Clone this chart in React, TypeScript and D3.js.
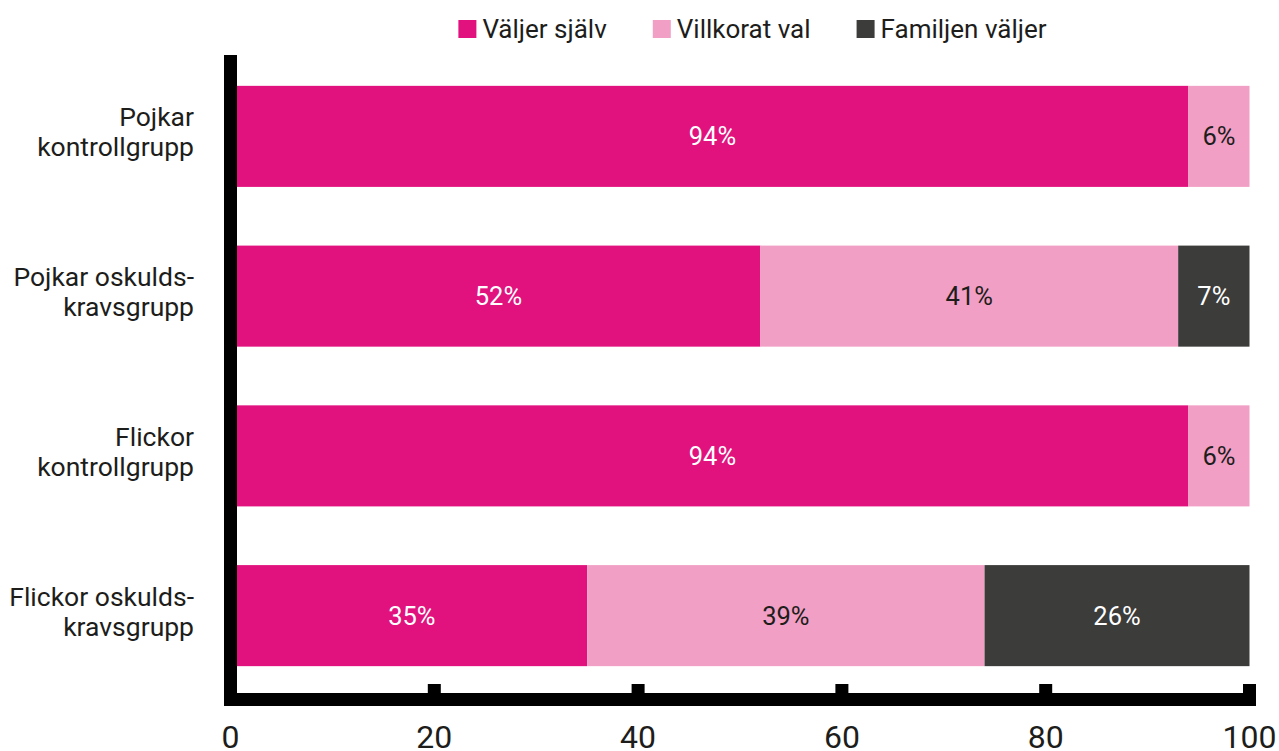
import React, { useEffect, useRef } from "react";
import * as d3 from "d3";

const categories = [
  ["Pojkar", "kontrollgrupp"],
  ["Pojkar oskulds-", "kravsgrupp"],
  ["Flickor", "kontrollgrupp"],
  ["Flickor oskulds-", "kravsgrupp"],
];
const seriesNames = ["Väljer själv", "Villkorat val", "Familjen väljer"];
const valjerSjalv = [94, 52, 94, 35];
const villkoratVal = [6, 41, 6, 39];
const familjenValjer = [0, 7, 0, 26];
const xTicks = [0, 20, 40, 60, 80, 100];

const colors = ["#E1127E", "#F29FC5", "#3C3C3B"];
const labelColors = ["#ffffff", "#1d1d1b", "#ffffff"];
const FONT = "Roboto, sans-serif";

export default function App() {
  const ref = useRef<SVGSVGElement>(null);
  useEffect(() => {
    const svg = d3.select(ref.current);
    svg.selectAll("*").remove();
    const x = d3.scaleLinear().domain([0, 100]).range([230.5, 1249.5]);
    const keys = categories.map((c) => c.join(" "));
    const y = d3
      .scaleBand<string>()
      .domain(keys)
      .range([56.5, 695.5])
      .paddingInner(0.3674)
      .paddingOuter(0.1837);

    const rows = keys.map((k, i) => ({
      key: k,
      "0": valjerSjalv[i],
      "1": villkoratVal[i],
      "2": familjenValjer[i],
    }));
    const stack = d3.stack<any>().keys(["0", "1", "2"]);
    const stacked = stack(rows);

    stacked.forEach((layer, si) => {
      const g = svg.append("g");
      layer.forEach((d, i) => {
        const v = d[1] - d[0];
        if (v <= 0) return;
        const x0 = x(d[0]);
        const x1 = x(d[1]);
        const yy = y(keys[i])!;
        g.append("rect")
          .attr("x", x0)
          .attr("y", yy)
          .attr("width", x1 - x0)
          .attr("height", y.bandwidth())
          .attr("fill", colors[si]);
        g.append("text")
          .attr("x", (x0 + x1) / 2 + (d[0] === 0 ? 3 : 0))
          .attr("y", yy + y.bandwidth() / 2 + 9)
          .attr("text-anchor", "middle")
          .attr("font-family", FONT)
          .attr("font-size", 25.5)
          .attr("fill", labelColors[si])
          .text(`${v}%`);
      });
    });

    // category labels
    categories.forEach((lines, i) => {
      const cy = y(keys[i])! + y.bandwidth() / 2;
      const t = svg
        .append("text")
        .attr("text-anchor", "end")
        .attr("font-family", FONT)
        .attr("font-size", 26.5)
        .attr("fill", "#1d1d1b");
      lines.forEach((ln, li) => {
        t.append("tspan")
          .attr("x", 194)
          .attr("y", cy - 10 + li * 30)
          .text(ln);
      });
    });

    // axes
    const axisW = 13;
    svg
      .append("rect")
      .attr("x", x(0) - axisW / 2)
      .attr("y", 55)
      .attr("width", axisW)
      .attr("height", 706 - 55)
      .attr("fill", "#000");
    svg
      .append("rect")
      .attr("x", x(0) - axisW / 2)
      .attr("y", 693)
      .attr("width", x(100) + axisW / 2 - (x(0) - axisW / 2))
      .attr("height", axisW)
      .attr("fill", "#000");
    xTicks.forEach((t) => {
      svg
        .append("rect")
        .attr("x", x(t) - axisW / 2)
        .attr("y", 684)
        .attr("width", axisW)
        .attr("height", 10)
        .attr("fill", "#000");
      svg
        .append("text")
        .attr("x", x(t))
        .attr("y", 747.5)
        .attr("text-anchor", "middle")
        .attr("font-family", FONT)
        .attr("font-size", 32)
        .attr("fill", "#1d1d1b")
        .text(String(t));
    });

    // legend
    const lg = svg.append("g");
    let cx = 0;
    const gap = 46;
    seriesNames.forEach((name, i) => {
      const g = lg.append("g");
      g.append("rect")
        .attr("x", 0)
        .attr("y", 20)
        .attr("width", 18)
        .attr("height", 18)
        .attr("fill", colors[i]);
      const tx = g
        .append("text")
        .attr("x", 24)
        .attr("y", 38)
        .attr("font-family", FONT)
        .attr("font-size", 26)
        .attr("fill", "#1d1d1b")
        .text(name);
      const w = 24 + (tx.node() as SVGTextElement).getComputedTextLength();
      g.attr("transform", `translate(${cx},0)`);
      cx += w + gap;
    });
    const total = cx - gap;
    lg.attr("transform", `translate(${752.5 - total / 2},0)`);
  }, []);
  return (
    <svg
      ref={ref}
      width={1279}
      height={751}
      style={{ position: "absolute", left: 0, top: 0, background: "#fff" }}
    />
  );
}
